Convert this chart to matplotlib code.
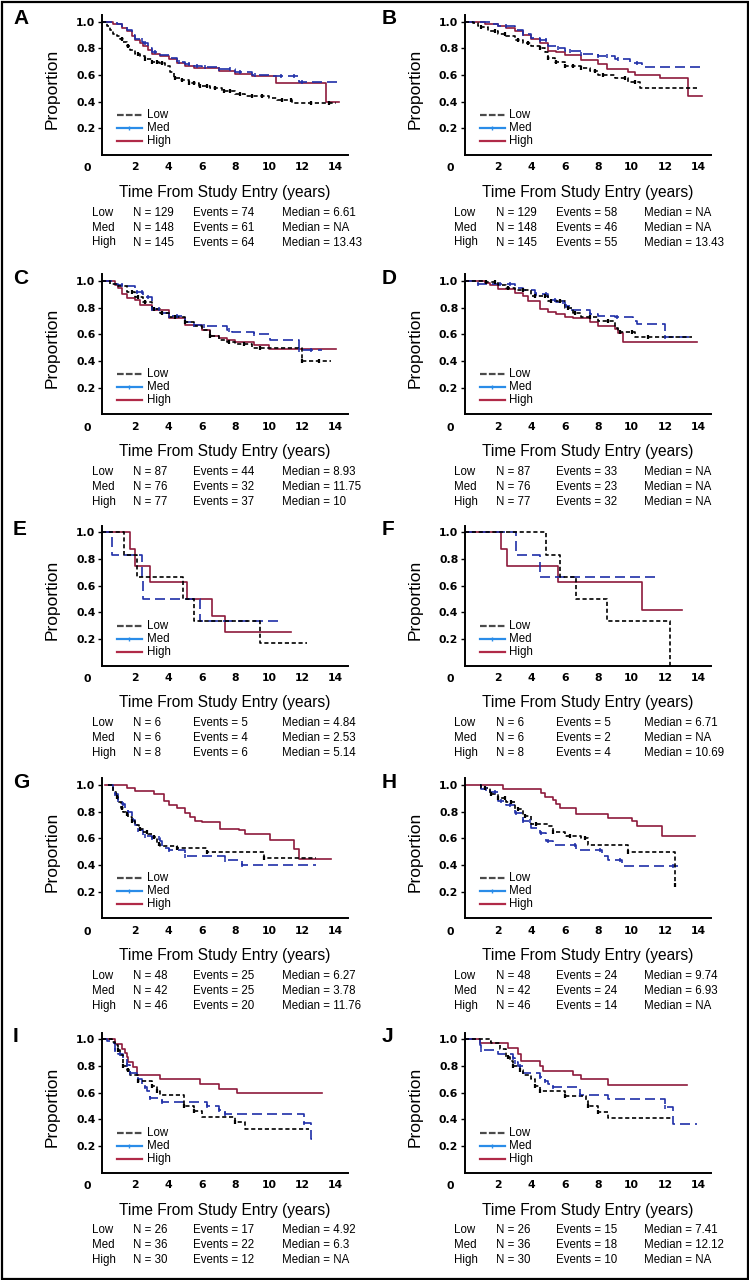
import numpy as np
import matplotlib
matplotlib.use("Agg")
import matplotlib.pyplot as plt
from matplotlib.patches import Rectangle

# *******************
# Kaplan-Meier curves (time in years, proportion)
# *******************
A_low_t = [0, 0.3, 0.5, 0.7, 0.9, 1.1, 1.3, 1.5, 1.7, 2.0, 2.3, 2.6, 3.0, 3.4, 3.8, 4.1, 4.3, 4.7, 5.2, 5.8, 6.5, 7.2, 8.0, 8.6, 10.0, 10.5, 11.4, 14.0]
A_low_s = [1.0, 0.97, 0.94, 0.91, 0.89, 0.87, 0.85, 0.82, 0.79, 0.76, 0.74, 0.72, 0.70, 0.69, 0.67, 0.62, 0.58, 0.56, 0.54, 0.52, 0.50, 0.48, 0.46, 0.44, 0.43, 0.41, 0.39, 0.39]
A_low_c = [1.2, 1.6, 2.2, 2.6, 3.0, 3.3, 3.6, 4.4, 4.8, 5.2, 5.5, 5.9, 6.3, 6.8, 7.3, 7.7, 8.3, 9.0, 9.6, 10.8, 11.3, 12.5, 13.6]
A_med_t = [0, 0.9, 1.2, 1.5, 1.8, 2.0, 2.3, 2.5, 2.8, 3.0, 3.5, 4.0, 4.5, 5.0, 5.5, 6.0, 7.0, 8.0, 9.0, 10.0, 11.8, 14.2]
A_med_s = [1.0, 0.98, 0.96, 0.94, 0.90, 0.87, 0.86, 0.84, 0.80, 0.77, 0.75, 0.73, 0.70, 0.68, 0.67, 0.66, 0.645, 0.62, 0.60, 0.59, 0.55, 0.55]
A_med_c = [2.4, 2.6, 3.2, 4.6, 5.2, 5.7, 6.2, 7.0, 7.7, 8.3, 9.2, 10.7, 11.5, 12.0]
A_high_t = [0, 0.7, 1.2, 1.5, 1.8, 2.0, 2.3, 2.5, 2.8, 3.0, 3.5, 4.0, 4.5, 5.0, 5.5, 6.0, 7.0, 8.0, 9.0, 10.4, 13.45, 14.2]
A_high_s = [1.0, 0.98, 0.95, 0.93, 0.89, 0.86, 0.84, 0.82, 0.79, 0.76, 0.74, 0.72, 0.69, 0.67, 0.655, 0.65, 0.63, 0.61, 0.59, 0.54, 0.40, 0.40]

B_low_t = [0, 0.5, 0.8, 1.0, 1.4, 2.0, 2.5, 3.0, 3.5, 4.0, 4.5, 4.8, 5.0, 5.4, 6.0, 7.0, 7.5, 8.0, 9.0, 9.8, 10.5, 14.0]
B_low_s = [1.0, 0.99, 0.97, 0.96, 0.93, 0.91, 0.89, 0.86, 0.84, 0.82, 0.80, 0.77, 0.73, 0.70, 0.67, 0.65, 0.63, 0.60, 0.58, 0.55, 0.505, 0.505]
B_low_c = [1.0, 1.8, 2.4, 3.2, 3.8, 4.5, 5.0, 5.5, 6.0, 6.5, 7.0, 7.8, 8.3, 9.6, 10.2]
B_med_t = [0, 1.5, 2.0, 3.0, 3.5, 4.0, 4.5, 5.0, 5.5, 6.0, 7.0, 8.0, 9.0, 9.9, 10.6, 14.2]
B_med_s = [1.0, 0.98, 0.965, 0.94, 0.91, 0.88, 0.86, 0.82, 0.80, 0.78, 0.76, 0.745, 0.72, 0.69, 0.66, 0.66]
B_med_c = [2.5, 3.5, 4.5, 4.9, 5.6, 6.3, 7.0, 8.0, 8.5, 9.2, 10.3]
B_high_t = [0, 1.2, 2.0, 2.5, 3.0, 3.5, 4.0, 4.5, 5.0, 5.5, 6.0, 7.0, 8.0, 8.5, 9.8, 10.2, 11.7, 13.4, 14.2]
B_high_s = [1.0, 0.985, 0.97, 0.95, 0.93, 0.90, 0.87, 0.84, 0.78, 0.77, 0.75, 0.71, 0.68, 0.645, 0.62, 0.60, 0.58, 0.44, 0.44]

C_low_t = [0, 0.5, 1.0, 1.5, 2.0, 2.5, 3.0, 3.5, 4.0, 5.0, 5.5, 6.0, 6.5, 7.0, 7.5, 8.0, 9.0, 12.0, 13.7]
C_low_s = [1.0, 0.98, 0.96, 0.915, 0.88, 0.84, 0.79, 0.76, 0.73, 0.69, 0.66, 0.63, 0.59, 0.56, 0.54, 0.525, 0.50, 0.40, 0.40]
C_low_c = [1.8, 2.2, 2.6, 3.1, 3.6, 4.4, 5.0, 6.5, 7.6, 8.5, 9.5, 12.0, 13.0]
C_med_t = [0, 0.7, 1.0, 1.5, 2.0, 2.5, 3.0, 3.5, 4.0, 5.0, 5.5, 6.0, 7.5, 7.8, 9.1, 10.1, 11.8, 13.2]
C_med_s = [1.0, 0.98, 0.97, 0.96, 0.92, 0.88, 0.79, 0.76, 0.735, 0.69, 0.67, 0.66, 0.63, 0.615, 0.60, 0.56, 0.48, 0.48]
C_med_c = [1.2, 2.1, 2.4, 2.8, 3.0, 3.4, 4.0, 4.5, 5.5, 6.1, 7.6, 9.1, 11.8, 12.5]
C_high_t = [0, 0.8, 1.0, 1.2, 1.5, 2.0, 2.3, 3.0, 4.0, 5.0, 6.0, 6.5, 7.0, 7.5, 8.0, 9.1, 10.0, 14.0]
C_high_s = [1.0, 0.97, 0.95, 0.90, 0.875, 0.86, 0.82, 0.78, 0.72, 0.67, 0.63, 0.59, 0.57, 0.555, 0.545, 0.52, 0.49, 0.49]

D_low_t = [0, 1.3, 1.5, 2.0, 2.5, 3.0, 4.0, 5.0, 6.0, 6.5, 7.0, 8.0, 9.0, 9.2, 10.2, 13.6]
D_low_s = [1.0, 0.995, 0.99, 0.97, 0.95, 0.93, 0.89, 0.85, 0.80, 0.76, 0.73, 0.70, 0.65, 0.62, 0.58, 0.58]
D_low_c = [1.3, 1.8, 2.6, 3.5, 4.2, 4.8, 5.2, 5.7, 6.2, 6.6, 7.5, 8.6, 9.3, 10.0, 11.0]
D_med_t = [0, 0.8, 2.0, 3.0, 3.5, 4.2, 5.0, 5.5, 6.0, 6.3, 7.5, 8.0, 9.0, 10.1, 10.3, 12.0, 13.5]
D_med_s = [1.0, 0.98, 0.975, 0.95, 0.93, 0.905, 0.86, 0.84, 0.81, 0.78, 0.75, 0.74, 0.73, 0.70, 0.68, 0.58, 0.58]
D_med_c = [0.8, 2.1, 2.7, 3.5, 4.3, 4.9, 5.4, 5.9, 6.1, 7.5, 9.1, 12.0]
D_high_t = [0, 1.2, 1.5, 2.0, 3.0, 3.5, 3.8, 4.5, 5.0, 5.5, 6.0, 6.5, 7.5, 8.0, 9.0, 9.2, 9.5, 13.9]
D_high_s = [1.0, 0.985, 0.97, 0.94, 0.91, 0.89, 0.85, 0.79, 0.77, 0.75, 0.73, 0.72, 0.695, 0.66, 0.64, 0.61, 0.545, 0.545]

E_low_t = [0, 1.35, 2.1, 4.85, 5.5, 9.5, 12.3]
E_low_s = [1.0, 0.833, 0.667, 0.5, 0.333, 0.167, 0.167]
E_low_c = []
E_med_t = [0, 0.6, 2.4, 2.5, 5.9, 10.8]
E_med_s = [1.0, 0.833, 0.667, 0.5, 0.333, 0.333]
E_med_c = []
E_high_t = [0, 1.7, 2.0, 2.9, 5.1, 6.6, 7.4, 11.3]
E_high_s = [1.0, 0.875, 0.75, 0.625, 0.5, 0.375, 0.25, 0.25]

F_low_t = [0, 4.9, 5.7, 6.7, 8.5, 12.3]
F_low_s = [1.0, 0.833, 0.667, 0.5, 0.333, 0.0]
F_low_c = []
F_med_t = [0, 3.1, 4.5, 11.4]
F_med_s = [1.0, 0.833, 0.667, 0.667]
F_med_c = []
F_high_t = [0, 2.2, 2.55, 5.6, 10.6, 13.0]
F_high_s = [1.0, 0.875, 0.75, 0.625, 0.417, 0.417]

G_low_t = [0.4, 0.7, 0.85, 1.0, 1.15, 1.3, 1.45, 1.6, 1.8, 2.0, 2.25, 2.5, 2.8, 3.0, 3.3, 3.5, 4.5, 6.3, 9.7, 12.8]
G_low_s = [1.0, 0.95, 0.91, 0.87, 0.83, 0.80, 0.78, 0.76, 0.73, 0.70, 0.67, 0.65, 0.63, 0.61, 0.56, 0.54, 0.53, 0.50, 0.45, 0.45]
G_low_c = [0.9, 1.2, 1.5, 1.8, 2.3, 2.7, 3.1, 3.4, 4.5, 6.3, 9.7]
G_med_t = [0.4, 0.65, 0.8, 1.0, 1.2, 1.4, 1.6, 1.8, 1.9, 2.0, 2.2, 2.5, 3.0, 3.5, 3.6, 4.0, 5.0, 7.4, 8.4, 12.8]
G_med_s = [1.0, 0.96, 0.93, 0.89, 0.86, 0.83, 0.80, 0.77, 0.74, 0.70, 0.66, 0.62, 0.60, 0.58, 0.53, 0.51, 0.47, 0.44, 0.40, 0.40]
G_med_c = [0.8, 1.0, 1.3, 1.6, 1.9, 2.2, 2.6, 3.0, 3.4, 4.0, 5.0, 7.4, 8.4]
G_high_t = [0.2, 1.5, 2.0, 3.1, 3.7, 4.0, 4.5, 5.0, 5.3, 5.6, 6.0, 7.1, 8.2, 8.6, 10.1, 11.5, 11.8, 13.7]
G_high_s = [1.0, 0.98, 0.955, 0.93, 0.88, 0.85, 0.83, 0.79, 0.76, 0.73, 0.72, 0.67, 0.66, 0.63, 0.59, 0.52, 0.445, 0.445]

H_low_t = [0.9, 1.0, 1.5, 2.0, 2.5, 3.0, 3.5, 4.0, 5.0, 5.3, 6.0, 7.0, 7.4, 9.8, 12.6]
H_low_s = [1.0, 0.98, 0.93, 0.90, 0.87, 0.82, 0.77, 0.71, 0.69, 0.65, 0.62, 0.60, 0.55, 0.50, 0.25]
H_low_c = [1.2, 1.6, 2.0, 2.4, 2.8, 3.2, 3.6, 4.3, 5.3, 6.3, 7.2, 9.8, 12.6]
H_med_t = [0.9, 1.0, 1.5, 2.0, 2.5, 3.0, 3.5, 4.0, 4.5, 4.9, 5.3, 6.7, 8.2, 8.6, 9.4, 12.8]
H_med_s = [1.0, 0.97, 0.95, 0.88, 0.85, 0.79, 0.73, 0.68, 0.64, 0.58, 0.55, 0.51, 0.47, 0.44, 0.395, 0.395]
H_med_c = [1.3, 1.8, 2.2, 2.7, 3.1, 3.5, 3.9, 4.6, 5.0, 6.6, 8.1, 9.3, 12.5]
H_high_t = [0, 2.3, 4.6, 4.8, 5.3, 5.5, 5.7, 6.7, 8.6, 10.0, 10.3, 11.8, 13.8]
H_high_s = [1.0, 0.97, 0.94, 0.91, 0.89, 0.86, 0.825, 0.78, 0.755, 0.73, 0.69, 0.615, 0.615]

I_low_t = [0, 0.6, 0.8, 1.0, 1.1, 1.3, 1.5, 1.7, 2.2, 3.0, 3.3, 3.5, 4.9, 5.5, 6.0, 8.0, 8.6, 12.4]
I_low_s = [1.0, 0.98, 0.96, 0.92, 0.88, 0.80, 0.77, 0.73, 0.69, 0.65, 0.61, 0.58, 0.50, 0.46, 0.42, 0.38, 0.33, 0.33]
I_low_c = [1.0, 1.3, 1.6, 2.2, 3.0, 3.3, 4.9, 5.5, 8.0]
I_med_t = [0, 0.3, 0.5, 0.8, 1.0, 1.3, 1.5, 1.7, 2.1, 2.2, 2.4, 2.7, 2.9, 3.6, 6.3, 7.0, 7.4, 12.1, 12.5, 12.8]
I_med_s = [1.0, 0.985, 0.97, 0.92, 0.89, 0.86, 0.81, 0.75, 0.72, 0.70, 0.64, 0.61, 0.56, 0.53, 0.50, 0.47, 0.44, 0.37, 0.25, 0.25]
I_med_c = [0.8, 1.1, 1.5, 1.7, 2.2, 2.6, 2.9, 3.6, 6.3, 7.0, 7.4, 12.1]
I_high_t = [0, 0.8, 1.2, 1.4, 1.5, 1.6, 1.9, 2.1, 3.5, 5.9, 7.0, 8.1, 13.2]
I_high_s = [1.0, 0.965, 0.93, 0.90, 0.87, 0.83, 0.79, 0.73, 0.70, 0.665, 0.63, 0.60, 0.60]

J_low_t = [0, 1.5, 1.6, 2.1, 2.5, 2.7, 2.9, 3.3, 3.5, 4.0, 4.2, 4.5, 6.0, 7.3, 7.4, 8.0, 8.6, 12.5]
J_low_s = [1.0, 0.985, 0.97, 0.93, 0.87, 0.84, 0.80, 0.77, 0.73, 0.70, 0.65, 0.61, 0.575, 0.54, 0.50, 0.455, 0.41, 0.41]
J_low_c = [2.6, 2.9, 3.3, 4.2, 4.5, 6.0, 7.4, 8.0]
J_med_t = [0, 0.9, 1.0, 2.0, 2.9, 3.0, 3.2, 3.5, 4.5, 4.8, 5.0, 5.3, 6.9, 8.6, 12.0, 12.5, 13.9]
J_med_s = [1.0, 0.96, 0.92, 0.89, 0.86, 0.83, 0.80, 0.75, 0.72, 0.69, 0.665, 0.64, 0.58, 0.55, 0.49, 0.365, 0.365]
J_med_c = [1.0, 2.9, 3.0, 3.3, 4.5, 4.8, 5.3, 6.9, 12.0]
J_high_t = [0, 0.9, 2.6, 3.2, 3.4, 4.5, 4.7, 6.5, 7.0, 8.6, 13.3]
J_high_s = [1.0, 0.97, 0.935, 0.89, 0.84, 0.80, 0.765, 0.73, 0.70, 0.66, 0.66]

# *******************
# Summary tables under each panel (Low, Med, High)
# *******************
GROUPS = ["Low", "Med", "High"]
A_n, A_ev, A_med = [129, 148, 145], [74, 61, 64], ["6.61", "NA", "13.43"]
B_n, B_ev, B_med = [129, 148, 145], [58, 46, 55], ["NA", "NA", "13.43"]
C_n, C_ev, C_med = [87, 76, 77], [44, 32, 37], ["8.93", "11.75", "10"]
D_n, D_ev, D_med = [87, 76, 77], [33, 23, 32], ["NA", "NA", "NA"]
E_n, E_ev, E_med = [6, 6, 8], [5, 4, 6], ["4.84", "2.53", "5.14"]
F_n, F_ev, F_med = [6, 6, 8], [5, 2, 4], ["6.71", "NA", "10.69"]
G_n, G_ev, G_med = [48, 42, 46], [25, 25, 20], ["6.27", "3.78", "11.76"]
H_n, H_ev, H_med = [48, 42, 46], [24, 24, 14], ["9.74", "6.93", "NA"]
I_n, I_ev, I_med = [26, 36, 30], [17, 22, 12], ["4.92", "6.3", "NA"]
J_n, J_ev, J_med = [26, 36, 30], [15, 18, 10], ["7.41", "12.12", "NA"]

X_TICKS = [2, 4, 6, 8, 10, 12, 14]
Y_TICKS = [0.2, 0.4, 0.6, 0.8, 1.0]

PANELS = [
    ("A", (A_low_t, A_low_s, A_low_c), (A_med_t, A_med_s, A_med_c), (A_high_t, A_high_s), (A_n, A_ev, A_med)),
    ("B", (B_low_t, B_low_s, B_low_c), (B_med_t, B_med_s, B_med_c), (B_high_t, B_high_s), (B_n, B_ev, B_med)),
    ("C", (C_low_t, C_low_s, C_low_c), (C_med_t, C_med_s, C_med_c), (C_high_t, C_high_s), (C_n, C_ev, C_med)),
    ("D", (D_low_t, D_low_s, D_low_c), (D_med_t, D_med_s, D_med_c), (D_high_t, D_high_s), (D_n, D_ev, D_med)),
    ("E", (E_low_t, E_low_s, E_low_c), (E_med_t, E_med_s, E_med_c), (E_high_t, E_high_s), (E_n, E_ev, E_med)),
    ("F", (F_low_t, F_low_s, F_low_c), (F_med_t, F_med_s, F_med_c), (F_high_t, F_high_s), (F_n, F_ev, F_med)),
    ("G", (G_low_t, G_low_s, G_low_c), (G_med_t, G_med_s, G_med_c), (G_high_t, G_high_s), (G_n, G_ev, G_med)),
    ("H", (H_low_t, H_low_s, H_low_c), (H_med_t, H_med_s, H_med_c), (H_high_t, H_high_s), (H_n, H_ev, H_med)),
    ("I", (I_low_t, I_low_s, I_low_c), (I_med_t, I_med_s, I_med_c), (I_high_t, I_high_s), (I_n, I_ev, I_med)),
    ("J", (J_low_t, J_low_s, J_low_c), (J_med_t, J_med_s, J_med_c), (J_high_t, J_high_s), (J_n, J_ev, J_med)),
]

# *******************
# Layout (pixels of the 749x1280 page)
# *******************
W, H = 749, 1280
COL_LEFT = [101.7, 464.5]
LETTER_X = [13, 382]
ROW_BASE = [155, 414.3, 665.7, 918.3, 1172.7]
AX_W, AX_H = 246.5, 140.0

LOW_C, MED_C, HIGH_C = "black", "#1f2fa8", "#8e1a3c"
LEG_COLORS = ["#4a4a4a", "#2a8ce8", "#b02a48"]
TXT = "Liberation Sans"
TICK_FONT = dict(family="DejaVu Sans", weight="bold", size=7.8)

plt.rcParams["font.family"] = [TXT, "DejaVu Sans"]


def fx(px):
    return px / W


def fy(py):
    return 1 - py / H


def censor_y(t, s, c):
    """proportion of the step curve at each censoring time"""
    idx = np.searchsorted(t, c, side="right") - 1
    return np.asarray(s)[idx]


fig = plt.figure(figsize=(W / 100, H / 100), dpi=100)

for i, (letter, low, med, high, table) in enumerate(PANELS):
    col, row = i % 2, i // 2
    left, base = COL_LEFT[col], ROW_BASE[row]
    ax = fig.add_axes([fx(left), fy(base), AX_W / W, AX_H / H])

    # curves
    ax.step(high[0], high[1], where="post", color=HIGH_C, lw=1.2, clip_on=False)
    ax.step(med[0], med[1], where="post", color=MED_C, lw=1.2,
            linestyle=(0, (6, 3)), clip_on=False)
    ax.step(low[0], low[1], where="post", color=LOW_C, lw=1.2,
            linestyle=(0, (2.5, 1.6)), clip_on=False)
    if len(med[2]):
        ax.plot(med[2], censor_y(med[0], med[1], med[2]), ls="none", marker="|",
                ms=3.5, mew=1.1, color=MED_C)
    if len(low[2]):
        ax.plot(low[2], censor_y(low[0], low[1], low[2]), ls="none", marker="|",
                ms=3.0, mew=1.6, color=LOW_C)

    ax.set_xlim(0, 14.75)
    ax.set_ylim(0, 1.05)
    ax.spines[["top", "right"]].set_visible(False)
    ax.spines["left"].set_linewidth(1.4)
    ax.spines["bottom"].set_linewidth(1.4)
    ax.set_xticks(X_TICKS)
    ax.set_xticklabels([str(x) for x in X_TICKS], fontdict=TICK_FONT)
    ax.set_yticks(Y_TICKS)
    ax.set_yticklabels(["%.1f" % y for y in Y_TICKS], fontdict=TICK_FONT)
    ax.tick_params(axis="x", length=0, pad=5.2)
    ax.tick_params(axis="y", length=3, width=1.0, pad=1.5)
    ax.text(-14 / AX_W, -13.3 / AX_H, "0", transform=ax.transAxes,
            ha="center", va="center", **TICK_FONT)

    ax.text(-49.7 / AX_W, 66 / AX_H, "Proportion", transform=ax.transAxes,
            rotation=90, ha="center", va="center", fontsize=12.5)
    ax.text(0.498, -37.3 / AX_H, "Time From Study Entry (years)",
            transform=ax.transAxes, ha="center", va="center", fontsize=11.2)

    # legend
    for k, g in enumerate(GROUPS):
        yk = (40 - 13 * k) / AX_H
        ls = (0, (3, 1)) if k == 0 else "-"
        ax.plot([15 / AX_W, 40 / AX_W], [yk, yk], transform=ax.transAxes,
                color=LEG_COLORS[k], lw=1.6, ls=ls)
        if k == 1:
            ax.plot([27.5 / AX_W], [yk], transform=ax.transAxes, marker="|",
                    ms=3, mew=1, color=LEG_COLORS[k])
        ax.text(45 / AX_W, yk, g, transform=ax.transAxes, ha="left",
                va="center", fontsize=8.3)

    # panel letter
    fig.text(fx(LETTER_X[col]), fy(base - 136.3), letter, ha="left",
             va="center", fontsize=15, fontweight="bold")

    # table
    n_list, ev_list, med_list = table
    for k, g in enumerate(GROUPS):
        yk = fy(base + 57.7 + 14.9 * k)
        cells = [g, "N = %d" % n_list[k], "Events = %d" % ev_list[k],
                 "Median = %s" % med_list[k]]
        for off, txt in zip([-10, 31, 91.5, 180], cells):
            fig.text(fx(left + off), yk, txt, ha="left", va="center",
                     fontsize=8.3)

fig.patches.append(Rectangle((fx(1.5), fy(1278.5)), fx(746), 1277 / H,
                             transform=fig.transFigure, fill=False,
                             edgecolor="black", lw=1.6))

fig.savefig("out.png", dpi=100)
